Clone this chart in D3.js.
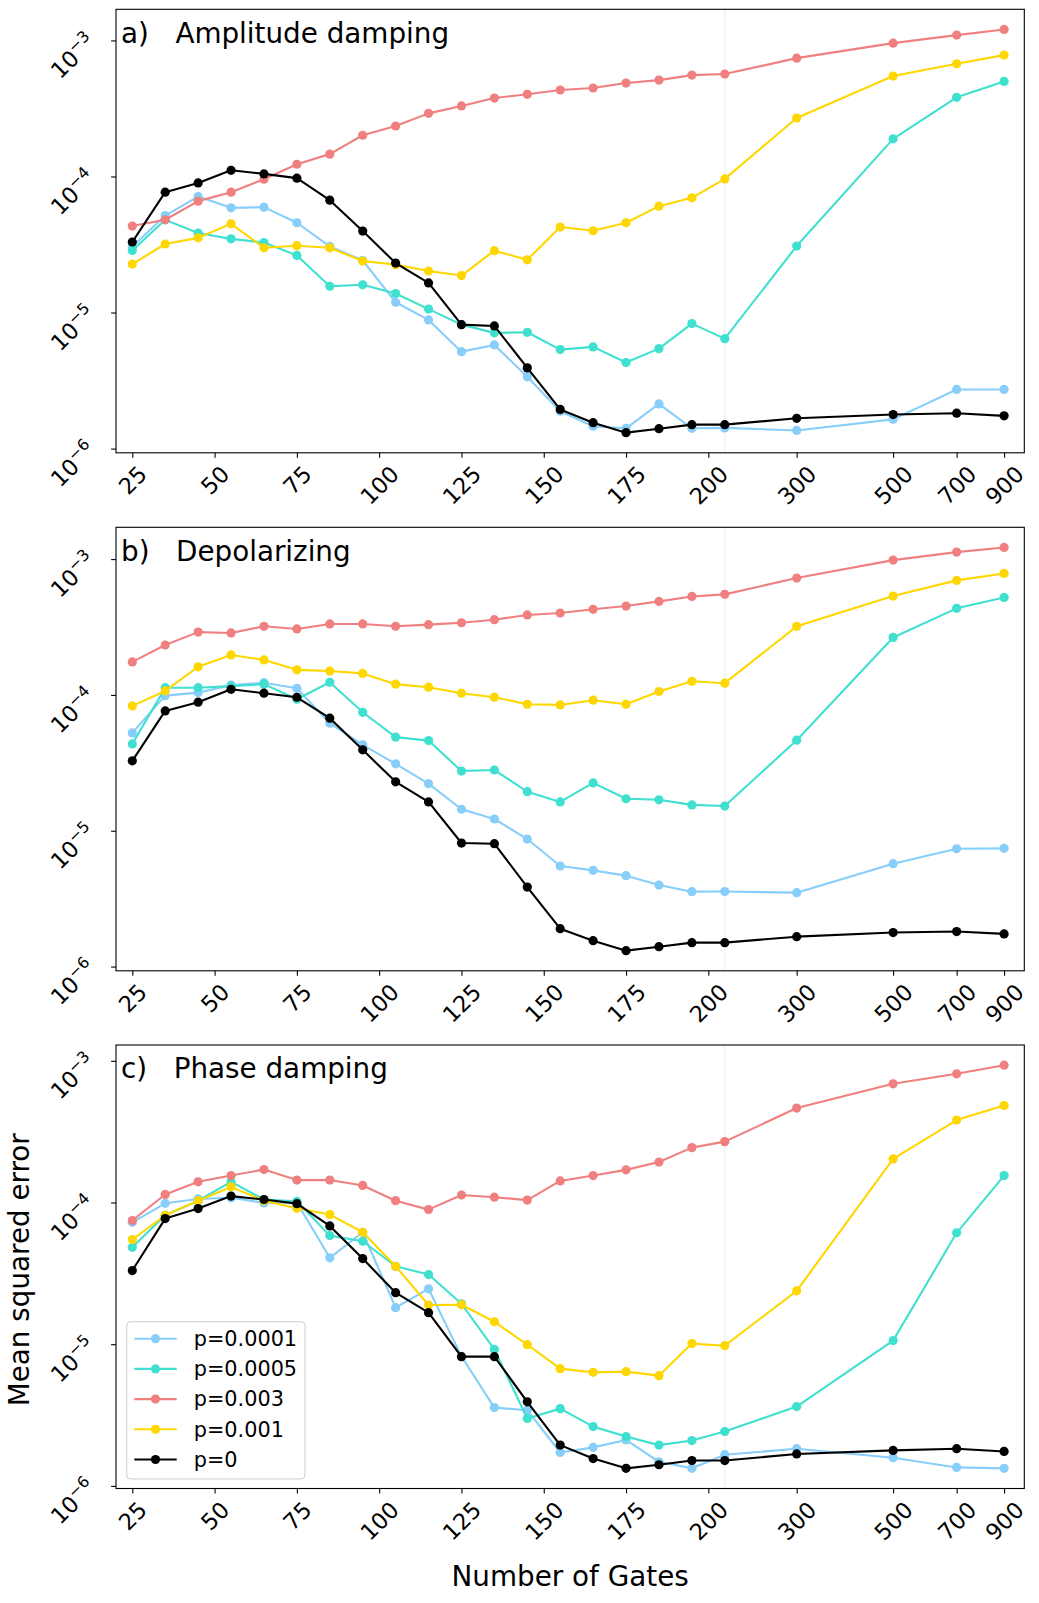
<!DOCTYPE html>
<html>
<head>
<meta charset="utf-8">
<script src="https://cdn.jsdelivr.net/npm/d3@7"></script>
<style>
body { margin: 0; background: #fff; }
svg { font-family: "DejaVu Sans", sans-serif; }
</style>
</head>
<body>
<svg id="chart" width="1039" height="1603"></svg>
<script>
const gates = [25, 35, 45, 55, 65, 75, 85, 95, 105, 115, 125, 135, 145, 155, 165, 175, 185, 195, 205, 300, 500, 700, 900];
const xTicks = [25, 50, 75, 100, 125, 150, 175, 200, 300, 500, 700, 900];
const yTicks = [1e-6, 1e-5, 1e-4, 1e-3];
const seriesNames = ["p=0.0001", "p=0.0005", "p=0.003", "p=0.001", "p=0"];
const seriesColors = ["#87cefa", "#40e0d0", "#f08080", "#ffd700", "#000000"];
const panelTitles = ["a)   Amplitude damping", "b)   Depolarizing", "c)   Phase damping"];

// a) amplitude damping
const amp_p0001 = [3.05e-5, 5.16e-5, 7.12e-5, 5.88e-5, 5.95e-5, 4.57e-5, 3.06e-5, 2.42e-5, 1.19e-5, 8.83e-6, 5.16e-6, 5.78e-6, 3.37e-6, 1.88e-6, 1.46e-6, 1.41e-6, 2.13e-6, 1.41e-6, 1.42e-6, 1.36e-6, 1.64e-6, 2.72e-6, 2.72e-6];
const amp_p0005 = [2.86e-5, 4.80e-5, 3.84e-5, 3.48e-5, 3.27e-5, 2.63e-5, 1.56e-5, 1.60e-5, 1.38e-5, 1.06e-5, 8.15e-6, 7.09e-6, 7.16e-6, 5.34e-6, 5.59e-6, 4.29e-6, 5.43e-6, 8.29e-6, 6.43e-6, 3.08e-5, 1.89e-4, 3.82e-4, 5.0e-4];
const amp_p003 = [4.32e-5, 4.81e-5, 6.59e-5, 7.67e-5, 9.55e-5, 1.23e-4, 1.46e-4, 2.01e-4, 2.35e-4, 2.91e-4, 3.30e-4, 3.77e-4, 4.02e-4, 4.32e-4, 4.47e-4, 4.86e-4, 5.11e-4, 5.56e-4, 5.66e-4, 7.41e-4, 9.55e-4, 1.094e-3, 1.204e-3];
const amp_p001 = [2.27e-5, 3.19e-5, 3.54e-5, 4.49e-5, 2.99e-5, 3.10e-5, 2.99e-5, 2.39e-5, 2.25e-5, 2.02e-5, 1.87e-5, 2.85e-5, 2.44e-5, 4.25e-5, 3.99e-5, 4.57e-5, 6.05e-5, 6.97e-5, 9.6e-5, 2.69e-4, 5.47e-4, 6.73e-4, 7.80e-4];
const amp_p0 = [3.30e-5, 7.67e-5, 8.97e-5, 1.11e-4, 1.045e-4, 9.72e-5, 6.70e-5, 3.97e-5, 2.31e-5, 1.65e-5, 8.15e-6, 7.97e-6, 3.92e-6, 1.94e-6, 1.55e-6, 1.31e-6, 1.40e-6, 1.50e-6, 1.50e-6, 1.67e-6, 1.78e-6, 1.82e-6, 1.74e-6];

// b) depolarizing
const dep_p0001 = [5.25e-5, 9.88e-5, 1.04e-4, 1.18e-4, 1.23e-4, 1.12e-4, 6.19e-5, 4.29e-5, 3.11e-5, 2.22e-5, 1.44e-5, 1.22e-5, 8.69e-6, 5.50e-6, 5.11e-6, 4.67e-6, 3.98e-6, 3.56e-6, 3.57e-6, 3.50e-6, 5.72e-6, 7.37e-6, 7.42e-6];
const dep_p0005 = [4.36e-5, 1.13e-4, 1.13e-4, 1.16e-4, 1.20e-4, 9.30e-5, 1.24e-4, 7.45e-5, 4.89e-5, 4.61e-5, 2.75e-5, 2.80e-5, 1.94e-5, 1.63e-5, 2.25e-5, 1.72e-5, 1.69e-5, 1.55e-5, 1.52e-5, 4.64e-5, 2.65e-4, 4.34e-4, 5.22e-4];
const dep_p003 = [1.75e-4, 2.33e-4, 2.90e-4, 2.86e-4, 3.20e-4, 3.06e-4, 3.33e-4, 3.33e-4, 3.20e-4, 3.29e-4, 3.40e-4, 3.58e-4, 3.88e-4, 4.01e-4, 4.27e-4, 4.51e-4, 4.88e-4, 5.31e-4, 5.50e-4, 7.25e-4, 9.83e-4, 1.126e-3, 1.218e-3];
const dep_p001 = [8.30e-5, 1.07e-4, 1.61e-4, 1.97e-4, 1.81e-4, 1.53e-4, 1.50e-4, 1.44e-4, 1.20e-4, 1.14e-4, 1.03e-4, 9.62e-5, 8.54e-5, 8.44e-5, 9.14e-5, 8.54e-5, 1.06e-4, 1.26e-4, 1.22e-4, 3.20e-4, 5.34e-4, 6.97e-4, 7.84e-4];
const dep_p0 = [3.27e-5, 7.62e-5, 8.84e-5, 1.10e-4, 1.03e-4, 9.61e-5, 6.74e-5, 3.94e-5, 2.29e-5, 1.63e-5, 8.12e-6, 8.03e-6, 3.85e-6, 1.90e-6, 1.55e-6, 1.31e-6, 1.40e-6, 1.50e-6, 1.50e-6, 1.66e-6, 1.78e-6, 1.81e-6, 1.74e-6];

// c) phase damping
const pha_p0001 = [7.25e-5, 9.87e-5, 1.06e-4, 1.08e-4, 9.94e-5, 1.0e-4, 4.07e-5, 6.17e-5, 1.81e-5, 2.46e-5, 8.2e-6, 3.57e-6, 3.42e-6, 1.72e-6, 1.87e-6, 2.11e-6, 1.48e-6, 1.33e-6, 1.66e-6, 1.83e-6, 1.58e-6, 1.35e-6, 1.33e-6];
const pha_p0005 = [4.83e-5, 8.12e-5, 1.03e-4, 1.40e-4, 1.05e-4, 1.02e-4, 5.84e-5, 5.33e-5, 3.55e-5, 3.10e-5, 1.93e-5, 9.19e-6, 2.99e-6, 3.51e-6, 2.62e-6, 2.23e-6, 1.94e-6, 2.09e-6, 2.42e-6, 3.63e-6, 1.06e-5, 6.11e-5, 1.55e-4];
const pha_p003 = [7.46e-5, 1.14e-4, 1.40e-4, 1.55e-4, 1.71e-4, 1.44e-4, 1.44e-4, 1.32e-4, 1.03e-4, 8.91e-5, 1.13e-4, 1.09e-4, 1.04e-4, 1.42e-4, 1.55e-4, 1.70e-4, 1.93e-4, 2.44e-4, 2.69e-4, 4.64e-4, 6.88e-4, 8.10e-4, 9.32e-4];
const pha_p001 = [5.48e-5, 8.12e-5, 1.03e-4, 1.29e-4, 1.03e-4, 9.10e-5, 8.22e-5, 6.17e-5, 3.55e-5, 1.89e-5, 1.9e-5, 1.44e-5, 9.92e-6, 6.72e-6, 6.33e-6, 6.40e-6, 6.0e-6, 1.01e-5, 9.76e-6, 2.38e-5, 2.03e-4, 3.82e-4, 4.84e-4];
const pha_p0 = [3.31e-5, 7.70e-5, 9.06e-5, 1.11e-4, 1.05e-4, 9.82e-5, 6.84e-5, 4.02e-5, 2.31e-5, 1.67e-5, 8.17e-6, 8.17e-6, 3.92e-6, 1.94e-6, 1.56e-6, 1.33e-6, 1.41e-6, 1.51e-6, 1.51e-6, 1.68e-6, 1.78e-6, 1.83e-6, 1.75e-6];

const panels = [
	[amp_p0001, amp_p0005, amp_p003, amp_p001, amp_p0],
	[dep_p0001, dep_p0005, dep_p003, dep_p001, dep_p0],
	[pha_p0001, pha_p0005, pha_p003, pha_p001, pha_p0]
];

const svg = d3.select("#chart");
const left = 116, right = 1024.3, panelH = 443.5;
const panelTops = [9.3, 527.3, 1045];
const tickFont = 22.5, legendFont = 20.8, bigFont = 27.8;

// linear up to 205 gates, log-spaced after that
const breakX = 205, logK = 57.36;
const xt = v => v <= breakX ? v : breakX + logK * Math.log(v / breakX);
const x = d3.scaleLinear().domain([25, xt(900)]).range([132.3, 1004.1]);

panels.forEach((series, pi) => {
	const top = panelTops[pi], bottom = top + panelH;
	const all = series.flat();
	const lo = Math.log10(d3.min(all)), hi = Math.log10(d3.max(all));
	const pad = (hi - lo) * 0.05;
	const y = d3.scaleLog()
		.domain([Math.pow(10, lo - pad), Math.pow(10, hi + pad)])
		.range([bottom, top]);

	const g = svg.append("g");

	g.append("line")
		.attr("x1", x(xt(205))).attr("x2", x(xt(205)))
		.attr("y1", top).attr("y2", bottom)
		.attr("stroke", "#000").attr("stroke-opacity", 0.08).attr("stroke-width", 1);

	const line = d3.line()
		.x((d, i) => x(xt(gates[i])))
		.y(d => y(d));

	series.forEach((vals, si) => {
		g.append("path")
			.datum(vals)
			.attr("fill", "none")
			.attr("stroke", seriesColors[si])
			.attr("stroke-width", 2.1)
			.attr("stroke-linejoin", "round")
			.attr("d", line);
		g.selectAll(".pt" + si)
			.data(vals)
			.enter()
			.append("circle")
			.attr("cx", (d, i) => x(xt(gates[i])))
			.attr("cy", d => y(d))
			.attr("r", 4.6)
			.attr("fill", seriesColors[si]);
	});

	g.append("rect")
		.attr("x", left).attr("y", top)
		.attr("width", right - left).attr("height", panelH)
		.attr("fill", "none").attr("stroke", "#000").attr("stroke-width", 1.1);

	// y axis
	const yAxis = g.append("g")
		.attr("transform", `translate(${left},0)`)
		.call(d3.axisLeft(y).tickValues(yTicks).tickSize(4.9).tickFormat(""));
	yAxis.select(".domain").remove();
	yAxis.selectAll("line").attr("stroke-width", 1.1);

	yTicks.forEach(t => {
		const e = Math.round(Math.log10(t));
		const txt = g.append("text")
			.attr("transform", `translate(${left - 19},${y(t) + 3}) rotate(-45)`)
			.attr("text-anchor", "end")
			.attr("font-size", tickFont);
		txt.append("tspan").text("10");
		txt.append("tspan").attr("font-size", tickFont * 0.7).attr("dy", -9).text("\u2212" + Math.abs(e));
	});

	// x axis
	const xAxis = g.append("g")
		.attr("transform", `translate(0,${bottom})`)
		.call(d3.axisBottom(x).tickValues(xTicks.map(xt)).tickSize(4.9).tickFormat((d, i) => xTicks[i]));
	xAxis.select(".domain").remove();
	xAxis.selectAll("line").attr("stroke-width", 1.1);
	xAxis.selectAll("text")
		.attr("font-size", tickFont)
		.attr("font-family", "DejaVu Sans")
		.attr("fill", "#000")
		.attr("y", 0)
		.attr("dy", "0.35em")
		.attr("transform", function() {
			const w = this.getComputedTextLength();
			const off = 9.8 + (w + 0.95 * tickFont) / (2 * Math.SQRT2);
			return `translate(0,${off}) rotate(-45)`;
		});

	g.append("text")
		.attr("x", left + 5)
		.attr("y", top + 33.4)
		.attr("font-size", bigFont)
		.style("white-space", "pre")
		.text(panelTitles[pi]);

	if (pi === 2) {
		svg.append("text")
			.attr("x", (left + right) / 2)
			.attr("y", 1586)
			.attr("text-anchor", "middle")
			.attr("font-size", bigFont)
			.text("Number of Gates");
		svg.append("text")
			.attr("transform", `translate(29,${(top + bottom) / 2 + 3}) rotate(-90)`)
			.attr("text-anchor", "middle")
			.attr("font-size", bigFont)
			.text("Mean squared error");

		// legend
		const lg = svg.append("g").attr("transform", "translate(126.7,1321.7)");
		lg.append("rect")
			.attr("width", 178.3).attr("height", 157.3)
			.attr("rx", 4)
			.attr("fill", "#fff").attr("fill-opacity", 0.8)
			.attr("stroke", "#ccc").attr("stroke-width", 1);
		seriesNames.forEach((name, si) => {
			const cy = 17 + si * 30.2;
			lg.append("line")
				.attr("x1", 7.6).attr("x2", 50)
				.attr("y1", cy).attr("y2", cy)
				.attr("stroke", seriesColors[si]).attr("stroke-width", 2.1);
			lg.append("circle")
				.attr("cx", 28.8).attr("cy", cy).attr("r", 4.6)
				.attr("fill", seriesColors[si]);
			lg.append("text")
				.attr("x", 67)
				.attr("y", cy + 7.3)
				.attr("font-size", legendFont)
				.text(name);
		});
	}
});
</script>
</body>
</html>
